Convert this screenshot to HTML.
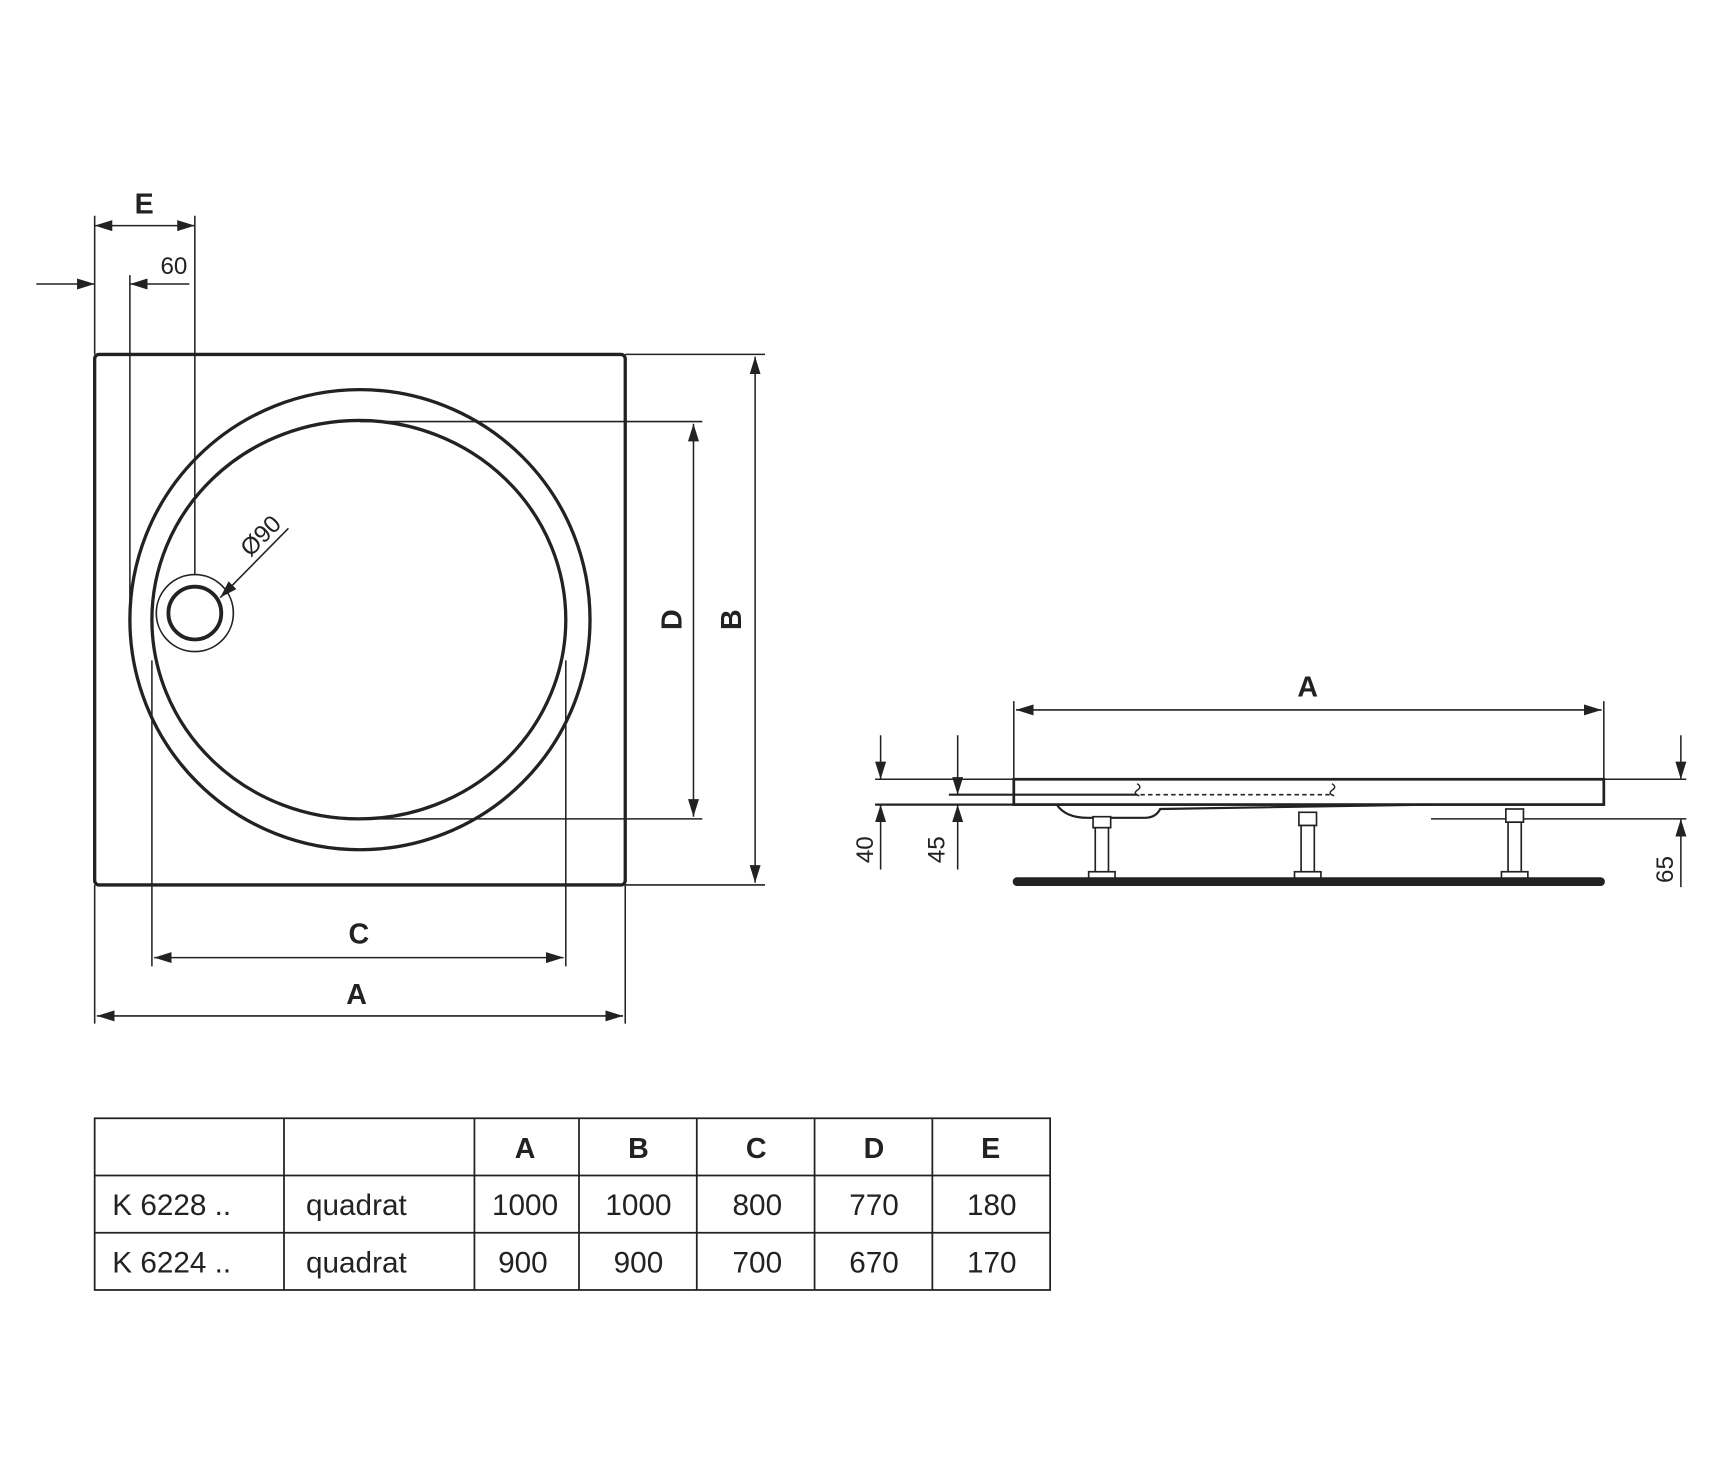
<!DOCTYPE html>
<html><head><meta charset="utf-8"><style>html,body{margin:0;padding:0;background:#fff}svg{display:block}</style></head>
<body>
<svg width="1726" height="1476" viewBox="0 0 1568 1341" preserveAspectRatio="none" xmlns="http://www.w3.org/2000/svg" font-family="Liberation Sans, Arial, sans-serif">
<defs>
<marker id="a" viewBox="0 0 16 10" refX="16" refY="5" markerWidth="16" markerHeight="10" markerUnits="userSpaceOnUse" orient="auto-start-reverse"><path d="M0,0 L16,5 L0,10 z" fill="#222"/></marker>
</defs>
<g stroke="#222" fill="none">
<rect x="86" y="322" width="482" height="482" rx="4" stroke-width="3"/>
<circle cx="327" cy="563" r="209" stroke-width="3"/>
<ellipse cx="326" cy="563" rx="188" ry="181" stroke-width="3"/>
<circle cx="177" cy="557" r="35" stroke-width="1.5"/>
<circle cx="177" cy="557" r="24" stroke-width="3.5"/>
<g stroke-width="1.4">
<line x1="86" y1="196" x2="86" y2="322"/>
<line x1="177" y1="196" x2="177" y2="522"/>
<line x1="118" y1="250" x2="118" y2="556"/>
<line x1="86" y1="205" x2="177" y2="205" marker-start="url(#a)" marker-end="url(#a)"/>
<line x1="33" y1="258" x2="86" y2="258" marker-end="url(#a)"/>
<line x1="172" y1="258" x2="118" y2="258" marker-end="url(#a)"/>
<line x1="262" y1="480" x2="200" y2="543" marker-end="url(#a)"/>
<line x1="327" y1="383" x2="638" y2="383"/>
<line x1="327" y1="744" x2="638" y2="744"/>
<line x1="630" y1="385" x2="630" y2="742" marker-start="url(#a)" marker-end="url(#a)"/>
<line x1="568" y1="322" x2="695" y2="322"/>
<line x1="568" y1="804" x2="695" y2="804"/>
<line x1="686" y1="324" x2="686" y2="802" marker-start="url(#a)" marker-end="url(#a)"/>
<line x1="138" y1="600" x2="138" y2="878"/>
<line x1="514" y1="600" x2="514" y2="878"/>
<line x1="140" y1="870" x2="512" y2="870" marker-start="url(#a)" marker-end="url(#a)"/>
<line x1="86" y1="804" x2="86" y2="930"/>
<line x1="568" y1="804" x2="568" y2="930"/>
<line x1="88" y1="923" x2="566" y2="923" marker-start="url(#a)" marker-end="url(#a)"/>
</g>
<g stroke-width="1.4">
<line x1="921" y1="637" x2="921" y2="708"/>
<line x1="1457" y1="637" x2="1457" y2="708"/>
<line x1="923" y1="645" x2="1455" y2="645" marker-start="url(#a)" marker-end="url(#a)"/>
<line x1="795" y1="708" x2="921" y2="708"/>
<line x1="795" y1="731" x2="921" y2="731" stroke-width="2"/>
<line x1="862" y1="722" x2="921" y2="722" stroke-width="2"/>
<line x1="800" y1="668" x2="800" y2="708" marker-end="url(#a)"/>
<line x1="800" y1="790" x2="800" y2="731" marker-end="url(#a)"/>
<line x1="870" y1="668" x2="870" y2="722" marker-end="url(#a)"/>
<line x1="870" y1="790" x2="870" y2="731" marker-end="url(#a)"/>
<line x1="1457" y1="708" x2="1532" y2="708"/>
<line x1="1300" y1="744" x2="1532" y2="744"/>
<line x1="1527" y1="668" x2="1527" y2="708" marker-end="url(#a)"/>
<line x1="1527" y1="806" x2="1527" y2="744" marker-end="url(#a)"/>
</g>
<rect x="921" y="708" width="536" height="23" stroke-width="2.5"/>
<line x1="921" y1="722" x2="1033" y2="722" stroke-width="2"/>
<line x1="1036" y1="722" x2="1210" y2="722" stroke-width="1.5" stroke-dasharray="4,3"/>
<path d="M1033,712 q5,3 0,6 q-4,3 2,5 M1210,712 q5,3 0,6 q-4,3 2,5" stroke-width="1.3"/>
<path d="M960,731 q8,12 28,12 L1040,743 q10,0 14,-8 L1300,731" stroke-width="2"/>
<g stroke-width="1.5" fill="#fff">
<rect x="993" y="742" width="16" height="10"/><rect x="995" y="752" width="12" height="42"/><rect x="989" y="792" width="24" height="6"/>
<rect x="1180" y="738" width="16" height="12"/><rect x="1182" y="750" width="12" height="44"/><rect x="1176" y="792" width="24" height="6"/>
<rect x="1368" y="735" width="16" height="12"/><rect x="1370" y="747" width="12" height="47"/><rect x="1364" y="792" width="24" height="6"/>
</g>
<rect x="920" y="797" width="538" height="8" rx="4" fill="#222" stroke="none"/>
<g stroke-width="1.6">
<rect x="86" y="1016" width="868" height="156"/>
<line x1="86" y1="1068" x2="954" y2="1068"/>
<line x1="86" y1="1120" x2="954" y2="1120"/>
<line x1="258" y1="1016" x2="258" y2="1172"/>
<line x1="431" y1="1016" x2="431" y2="1172"/>
<line x1="526" y1="1016" x2="526" y2="1172"/>
<line x1="633" y1="1016" x2="633" y2="1172"/>
<line x1="740" y1="1016" x2="740" y2="1172"/>
<line x1="847" y1="1016" x2="847" y2="1172"/>
</g>
</g>
<g fill="#222" font-size="26">
<g font-weight="bold" text-anchor="middle">
<text x="131" y="194">E</text>
<text x="326" y="857">C</text>
<text x="324" y="912">A</text>
<text x="1188" y="633">A</text>
<text transform="translate(619,563) rotate(-90)">D</text>
<text transform="translate(673,563) rotate(-90)">B</text>
<text x="477" y="1052">A</text><text x="580" y="1052">B</text><text x="687" y="1052">C</text><text x="794" y="1052">D</text><text x="900" y="1052">E</text>
</g>
<g font-size="22" text-anchor="middle">
<text x="158" y="249">60</text>
<text transform="translate(242,492) rotate(-45)">Ø90</text>
<text transform="translate(793,772) rotate(-90)">40</text>
<text transform="translate(858,772) rotate(-90)">45</text>
<text transform="translate(1520,790) rotate(-90)">65</text>
</g>
<g font-size="27">
<text x="102" y="1104">K 6228 ..</text><text x="102" y="1156">K 6224 ..</text>
<text x="278" y="1104">quadrat</text><text x="278" y="1156">quadrat</text>
<g text-anchor="middle">
<text x="477" y="1104">1000</text><text x="580" y="1104">1000</text><text x="688" y="1104">800</text><text x="794" y="1104">770</text><text x="901" y="1104">180</text>
<text x="475" y="1156">900</text><text x="580" y="1156">900</text><text x="688" y="1156">700</text><text x="794" y="1156">670</text><text x="901" y="1156">170</text>
</g>
</g>
</g>
</svg>
</body></html>
